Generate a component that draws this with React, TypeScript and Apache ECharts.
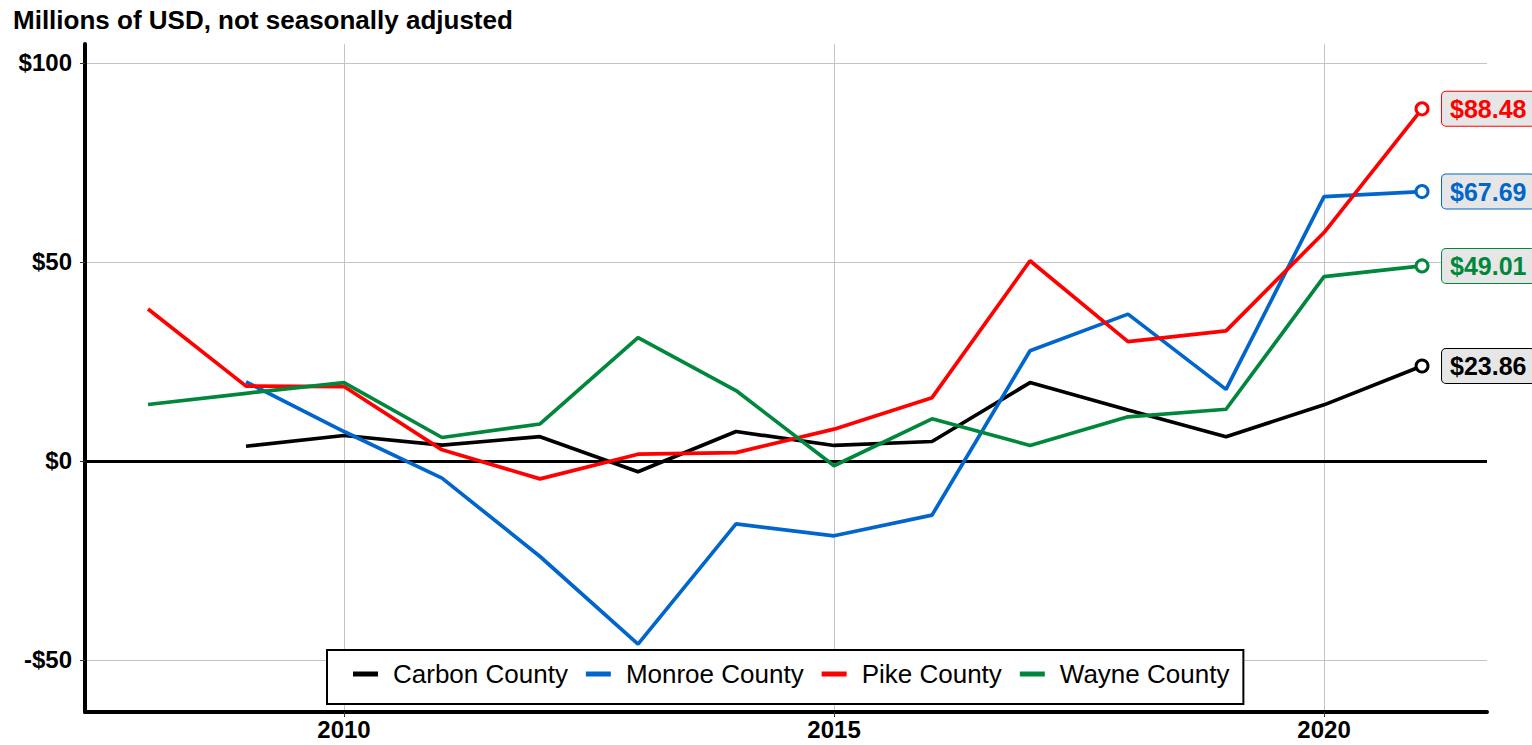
import React, { useEffect, useRef } from "react";
import * as echarts from "echarts";

const years = [2008, 2009, 2010, 2011, 2012, 2013, 2014, 2015, 2016, 2017, 2018, 2019, 2020, 2021];
const carbon = [null, 3.7, 6.4, 4.0, 6.1, -2.7, 7.4, 3.9, 4.9, 19.7, 12.8, 6.1, 14.1, 23.86];
const monroe = [null, 19.9, 7.4, -4.3, -24.0, -46.0, -15.8, -18.8, -13.6, 27.7, 36.9, 18.0, 66.4, 67.69];
const pike = [38.2, 18.8, 18.7, 2.8, -4.5, 1.7, 2.1, 8.0, 15.9, 50.3, 30.0, 32.7, 57.4, 88.48];
const wayne = [14.2, 17.0, 19.7, 5.9, 9.3, 31.0, 17.7, -1.2, 10.6, 3.9, 11.1, 13.0, 46.3, 49.01];

const seriesNames = ["Carbon County", "Monroe County", "Pike County", "Wayne County"];
const seriesColors = ["#000000", "#0066CC", "#FF0000", "#00873C"];
const seriesValues = [carbon, monroe, pike, wayne];

const xTicks = [2010, 2015, 2020];
const yTicks = [-50, 0, 50, 100];
const titleText = "Millions of USD, not seasonally adjusted";

const FONT = "'Liberation Sans', Arial, sans-serif";

function fmtY(v: number) {
  if (v < 0) return "-$" + Math.abs(v);
  return "$" + v;
}

export default function App() {
  const ref = useRef<HTMLDivElement>(null);
  useEffect(() => {
    if (!ref.current) return;
    const chart = echarts.init(ref.current, undefined, { renderer: "svg" });

    const series: any[] = seriesNames.map((name, i) => {
      const pts = years
        .map((y, k) => [y, seriesValues[i][k]])
        .filter((p) => p[1] !== null);
      const last = pts.length - 1;
      const color = seriesColors[i];
      return {
        name,
        type: "line",
        data: pts,
        z: 5,
        color,
        symbol: (_v: any, p: any) => (p.dataIndex === last ? "circle" : "none"),
        symbolSize: 12,
        showSymbol: true,
        lineStyle: { color, width: 3.7 },
        itemStyle: { color: "#ffffff", borderColor: color, borderWidth: 3 },
        endLabel: {
          show: true,
          distance: 20,
          formatter: (p: any) => "$" + Number(p.value[1]).toFixed(2),
          color,
          fontSize: 25,
          fontWeight: "bold",
          fontFamily: FONT,
          backgroundColor: "#e6e6e6",
          borderColor: color,
          borderWidth: 1,
          borderRadius: 4,
          padding: [5, 8, 4, 8],
        },
        emphasis: { disabled: true },
      };
    });

    series.push({
      name: "__zero",
      type: "line",
      data: [],
      z: 2,
      silent: true,
      markLine: {
        silent: true,
        symbol: "none",
        label: { show: false },
        lineStyle: { color: "#000", width: 3, type: "solid" },
        data: [{ yAxis: 0 }],
        animation: false,
      },
    });

    const option: any = {
      animation: false,
      textStyle: { fontFamily: FONT },
      title: {
        text: titleText,
        left: 8,
        top: 2,
        textStyle: { fontSize: 26, fontWeight: "bold", color: "#000", fontFamily: FONT },
      },
      grid: { left: 85, right: 45, top: 44, bottom: 33, containLabel: false },
      xAxis: {
        type: "value",
        min: 2007.357,
        max: 2021.663,
        axisLine: { show: true, onZero: false, lineStyle: { color: "#000", width: 4 } },
        axisTick: { show: true, customValues: xTicks, length: 5, lineStyle: { color: "#333", width: 1 } },
        axisLabel: {
          customValues: xTicks,
          formatter: (v: number) => String(v),
          fontSize: 24,
          fontWeight: "bold",
          color: "#000",
          margin: 5,
          fontFamily: FONT,
        },
        splitLine: { show: true, lineStyle: { color: "#c4c4c4", width: 1 } },
      },
      yAxis: {
        type: "value",
        min: -63.07,
        max: 104.77,
        axisLine: { show: true, onZero: false, lineStyle: { color: "#000", width: 4 } },
        axisTick: { show: true, customValues: yTicks, length: 5, lineStyle: { color: "#333", width: 1 } },
        axisLabel: {
          customValues: yTicks,
          formatter: (v: number) => fmtY(v),
          fontSize: 24,
          fontWeight: "bold",
          color: "#000",
          margin: 13,
          fontFamily: FONT,
        },
        splitLine: { show: true, lineStyle: { color: "#c4c4c4", width: 1 } },
      },
      legend: {
        data: seriesNames.map((n, i) => ({
          name: n,
          itemStyle: { color: seriesColors[i], borderWidth: 0 },
        })),
        left: 327,
        top: 650,
        orient: "horizontal",
        backgroundColor: "#ffffff",
        borderColor: "#000",
        borderWidth: 2,
        padding: [11, 14, 17, 26],
        itemGap: 18,
        itemWidth: 25,
        itemHeight: 5,
        icon: "rect",
        z: 20,
        textStyle: { fontSize: 26, color: "#000", fontFamily: FONT, padding: [0, 0, 0, 10] },
      },
      series,
    };
    chart.setOption(option);
    return () => chart.dispose();
  }, []);
  return (
    <div
      ref={ref}
      style={{ position: "fixed", left: 0, top: 0, width: 1532, height: 745, background: "#fff" }}
    />
  );
}
